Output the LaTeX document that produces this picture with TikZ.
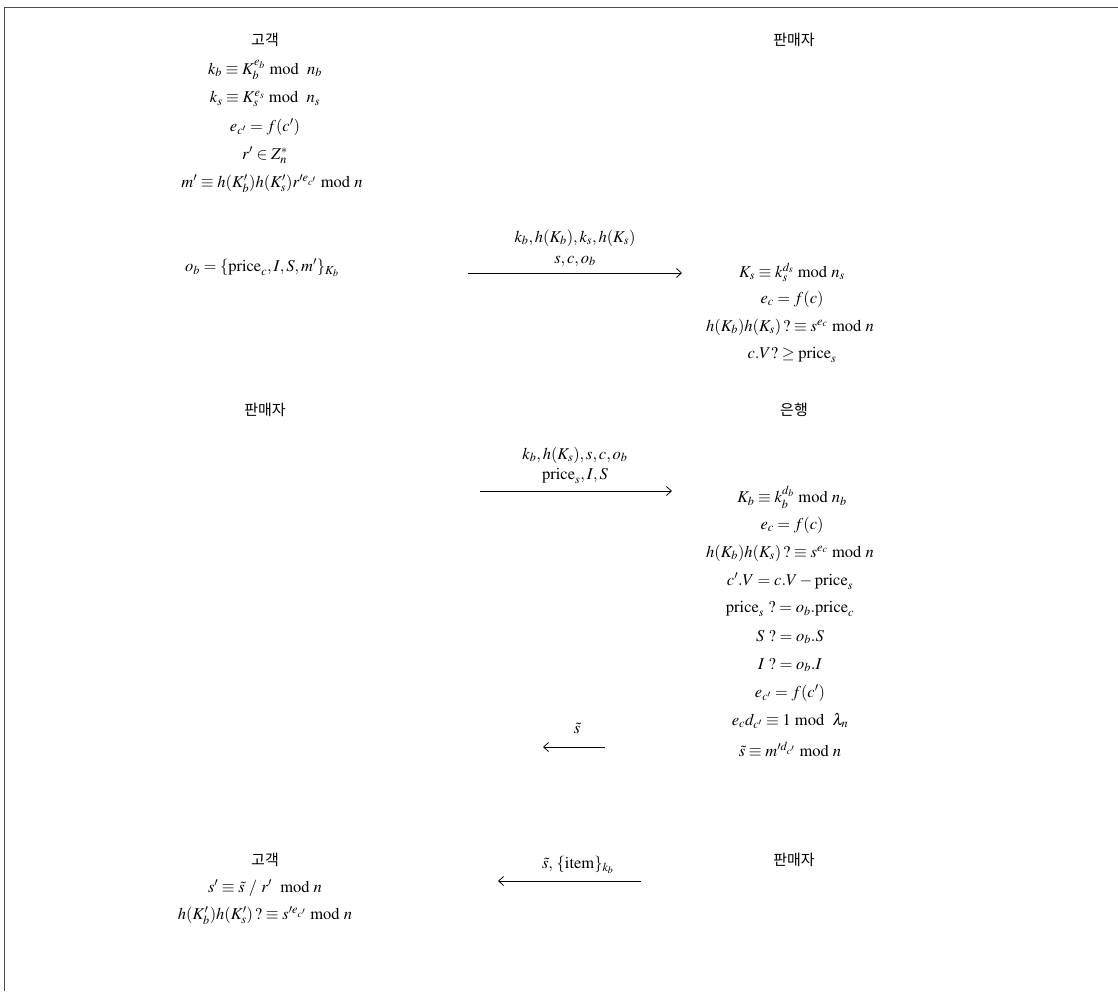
\documentclass[tikz,border=0pt]{standalone}
\usepackage{mathptmx}
\usepackage{fontspec}
\setmainfont{Liberation Serif}
\newfontfamily\kr{Noto Sans CJK KR}
\usetikzlibrary{arrows.meta}
\begin{document}
\begin{tikzpicture}[x=1pt,y=-1pt,
  every node/.style={inner sep=0pt,font=\fontsize{16.5}{19}\selectfont},
  hdr/.style={font=\kr\fontsize{15}{18}\selectfont},
  msg/.style={-{Straight Barb[length=5pt,width=9pt]},line width=0.8pt},
  frame/.style={line width=0.8pt,draw=black!70}]
\useasboundingbox (0,0) rectangle (1118,991);
\draw[frame] (4,991) -- (4,7) -- (1118,7);
% left column
\node[hdr] (c0) at (265,40) {고객};
\node (c1) at (265,70) {$k_b \equiv K_b^{e_b}\ \mathrm{mod}\ \ n_b$};
\node (c2) at (265,99) {$k_s \equiv K_s^{e_s}\ \mathrm{mod}\ \ n_s$};
\node (c3) at (265,127) {$e_{c'} = f(c')$};
\node (c4) at (265,155) {$r' \in Z_n^{*}$};
\node (c5) at (272,184) {$m' \equiv h(K_b')h(K_s')r'^{e_{c'}}\ \mathrm{mod}\ n$};
\node (c6) at (262,268) {$o_b = \{\mathrm{price}_c, I, S, m'\}_{K_b}$};
% right column
\node[hdr] (s0) at (794,40) {판매자};
\node (s1) at (792,272) {$K_s \equiv k_s^{d_s}\ \mathrm{mod}\ n_s$};
\node (s2) at (792,299) {$e_c = f(c)$};
\node (s3) at (790,327) {$h(K_b)h(K_s)\,?\equiv s^{e_c}\ \mathrm{mod}\ n$};
\node (s4) at (792,355) {$c.V?\ge \mathrm{price}_s$};
% message 1
\coordinate (a1s) at (468,273);
\coordinate (a1e) at (682,273);
\draw[msg] (a1s) -- (a1e);
\node (m1a) at (575,238) {$k_b, h(K_b), k_s, h(K_s)$};
\node (m1b) at (575,261) {$s, c, o_b$};
% middle
\node[hdr] (s5) at (265,410) {판매자};
\node[hdr] (b0) at (794,410) {은행};
\coordinate (a2s) at (480,491);
\coordinate (a2e) at (672,491);
\draw[msg] (a2s) -- (a2e);
\node (m2a) at (575,455) {$k_b, h(K_s), s, c, o_b$};
\node (m2b) at (575,476) {$\mathrm{price}_s, I, S$};
\node (b1) at (792,497) {$K_b \equiv k_b^{d_b}\ \mathrm{mod}\ n_b$};
\node (b2) at (792,525) {$e_c = f(c)$};
\node (b3) at (790,553) {$h(K_b)h(K_s)\,?\equiv s^{e_c}\ \mathrm{mod}\ n$};
\node (b4) at (790,581) {$c'.V = c.V - \mathrm{price}_s$};
\node (b5) at (790,609) {$\mathrm{price}_s\ ?= o_b.\mathrm{price}_c$};
\node (b6) at (790,637) {$S\ ?= o_b.S$};
\node (b7) at (790,665) {$I\ ?= o_b.I$};
\node (b8) at (790,693) {$e_{c'} = f(c')$};
\node (b9) at (790,721) {$e_c d_{c'} \equiv 1\ \mathrm{mod}\ \ \lambda_n$};
\node (b10) at (790,749) {$\tilde{s} \equiv m'^{d_{c'}}\ \mathrm{mod}\ n$};
\coordinate (a3s) at (605,747);
\coordinate (a3e) at (543,747);
\draw[msg] (a3s) -- (a3e);
\node (m3) at (577,728) {$\tilde{s}$};
% bottom
\node[hdr] (c7) at (265,860) {고객};
\node[hdr] (s6) at (794,860) {판매자};
\node (c8) at (265,888) {$s' \equiv \tilde{s}\ /\ r'\ \ \mathrm{mod}\ n$};
\node (c9) at (265,916) {$h(K_b')h(K_s')\,?\equiv s'^{e_{c'}}\ \mathrm{mod}\ n$};
\coordinate (a4s) at (641,881);
\coordinate (a4e) at (498,881);
\draw[msg] (a4s) -- (a4e);
\node (m4) at (578,865) {$\tilde{s},\,\{\mathrm{item}\}_{k_b}$};
\end{tikzpicture}
\end{document}
